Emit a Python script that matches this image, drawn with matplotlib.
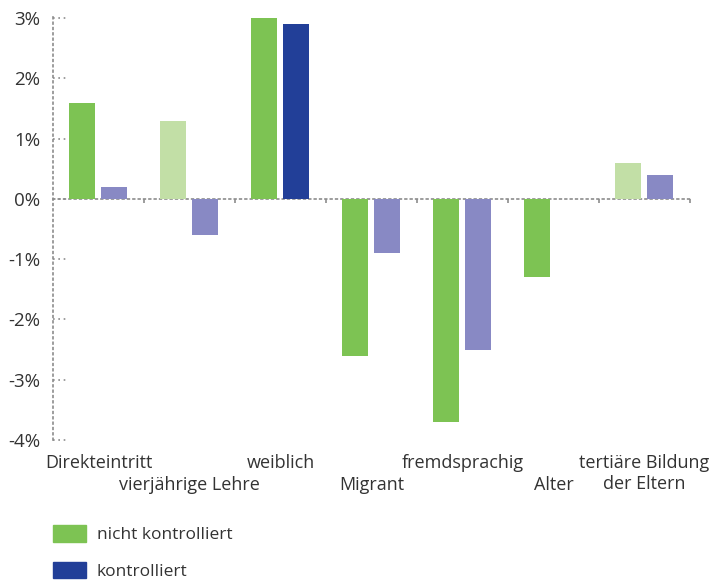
import numpy as np
import matplotlib
matplotlib.use("Agg")
import matplotlib.pyplot as plt
from matplotlib.patches import Patch
from matplotlib.transforms import blended_transform_factory

plt.rcParams['font.family'] = ['Open Sans', 'DejaVu Sans']

# Daten
kategorien = ["Direkteintritt", "vierjährige Lehre", "weiblich", "Migrant",
              "fremdsprachig", "Alter", "tertiäre Bildung\nder Eltern"]
nicht_kontrolliert = [1.6, 1.3, 3.0, -2.6, -3.7, -1.3, 0.6]
kontrolliert = [0.2, -0.6, 2.9, -0.9, -2.5, 0.0, 0.4]
signif_nk = [True, False, True, True, True, True, False]
signif_k = [False, False, True, False, False, False, False]
yticks = [-4, -3, -2, -1, 0, 1, 2, 3]

gruen, hellgruen = "#7dc353", "#c2dfa6"
blau, hellblau = "#223f98", "#8889c4"
grau = "#8c8c8c"
textfarbe = "#333333"

fig = plt.figure(figsize=(7.11, 5.81), dpi=100)
ax = fig.add_axes([53/711, 1 - 440/581, 637/711, 423/581])

x = np.arange(len(kategorien))
b = 0.286
ax.bar(x + 0.319, nicht_kontrolliert, width=b,
       color=[gruen if s else hellgruen for s in signif_nk], zorder=3)
ax.bar(x + 0.67, kontrolliert, width=b,
       color=[blau if s else hellblau for s in signif_k], zorder=3)

ax.set_xlim(0, 7)
ax.set_ylim(-4.0, 3.02)

punkte = (0, (1, 2.2))
for s in ["top", "right"]:
    ax.spines[s].set_visible(False)
ax.spines["left"].set_linestyle(punkte)
ax.spines["left"].set_color(grau)
ax.spines["left"].set_linewidth(1.2)
ax.spines["bottom"].set_position(("data", 0))
ax.spines["bottom"].set_linestyle(punkte)
ax.spines["bottom"].set_color(grau)
ax.spines["bottom"].set_linewidth(1.2)
ax.spines["bottom"].set_zorder(1)

ax.set_yticks(yticks)
ax.set_yticklabels([f"{v}%" for v in yticks], fontsize=13.5, color=textfarbe)
ax.tick_params(axis="y", length=0, pad=9)
trans = blended_transform_factory(ax.transAxes, ax.transData)
for v in yticks:
    ax.plot([0, 0.022], [v, v], transform=trans, color=grau,
            linestyle=punkte, lw=1.2, clip_on=False)

ax.set_xticks(np.arange(1, 8))
ax.set_xticklabels([])
ax.tick_params(axis="x", length=3, color=grau, direction="out", width=1.2)

for i, k in enumerate(kategorien):
    zeile = 0 if i % 2 == 0 else 1
    if "\n" in k:
        zeile = 0
    ax.text(i + 0.5, -0.033 - zeile * 0.052, k,
            transform=blended_transform_factory(ax.transData, ax.transAxes),
            ha="center", va="top", fontsize=13, color=textfarbe, linespacing=1.2)

handles = [Patch(color=gruen, label="nicht kontrolliert"),
           Patch(color=blau, label="kontrolliert")]
fig.legend(handles=handles, loc="upper left", bbox_to_anchor=(41/711, 1 - 513/581),
           frameon=False, fontsize=12.5, handlelength=1.9, handleheight=1.1,
           labelspacing=1.05, handletextpad=0.6, labelcolor=textfarbe,
           borderaxespad=0.3)

fig.savefig("out.png", dpi=100)
